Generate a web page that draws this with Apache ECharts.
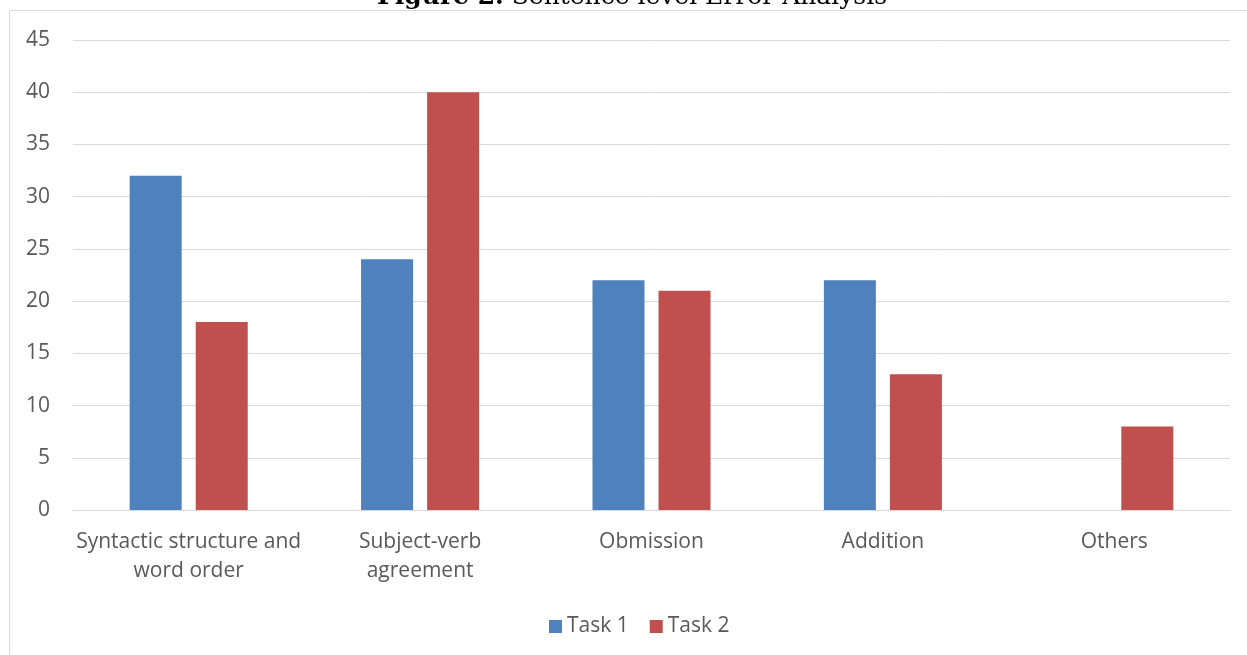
<!DOCTYPE html>
<html>
<head>
<meta charset="utf-8">
<script src="https://cdn.jsdelivr.net/npm/echarts@6/dist/echarts.min.js"></script>
<style>
  html, body { margin: 0; padding: 0; background: #fff; }
  #main { width: 1247px; height: 655px; }
</style>
</head>
<body>
<div id="main"></div>
<script>
const categories = [
  "Syntactic structure and\nword order",
  "Subject-verb\nagreement",
  "Obmission",
  "Addition",
  "Others",
];
const task1 = [32, 24, 22, 22, null];
const task2 = [18, 40, 21, 13, 8];
const yTicks = { min: 0, max: 45, interval: 5 };

const chart = echarts.init(document.getElementById("main"));
const textColor = "#595959";
const font = "Open Sans";

const option = {
  animation: false,
  textStyle: { fontFamily: font },
  graphic: [
    {
      type: "rect",
      shape: { x: 9.5, y: 10.5, width: 1260, height: 660 },
      style: { fill: "none", stroke: "#D9D9D9", lineWidth: 1 },
      silent: true,
    },
    {
      type: "text",
      x: 632,
      y: 10,
      style: {
        text: "{b|Figure 2.} Sentence level Error Analysis",
        fontFamily: "DejaVu Serif",
        fontSize: 25,
        fill: "#000",
        align: "center",
        verticalAlign: "bottom",
        rich: {
          b: { fontFamily: "DejaVu Serif", fontSize: 25, fontWeight: "bold", fill: "#000" },
        },
      },
      silent: true,
    },
  ],
  legend: {
    data: ["Task 1", "Task 2"],
    bottom: 13,
    left: 544,
    itemWidth: 13,
    itemHeight: 13,
    itemGap: 21,
    icon: "rect",
    textStyle: { color: textColor, fontSize: 21, fontFamily: font },
  },
  grid: { left: 73, right: 17, top: 40, bottom: 145 },
  xAxis: {
    type: "category",
    data: categories,
    axisLine: { lineStyle: { color: "#D9D9D9", width: 1 } },
    axisTick: { show: false },
    axisLabel: {
      color: textColor,
      fontSize: 21,
      fontFamily: font,
      lineHeight: 29,
      margin: 18,
      interval: 0,
    },
  },
  yAxis: {
    type: "value",
    min: yTicks.min,
    max: yTicks.max,
    interval: yTicks.interval,
    axisLine: { show: false },
    axisTick: { show: false },
    splitLine: { lineStyle: { color: "#D9D9D9", width: 1 } },
    axisLabel: { color: textColor, fontSize: 21, fontFamily: font, margin: 23 },
  },
  series: [
    {
      name: "Task 1",
      type: "bar",
      data: task1,
      barWidth: 52,
      barGap: "27%",
      itemStyle: { color: "#4F81BD" },
    },
    {
      name: "Task 2",
      type: "bar",
      data: task2,
      barWidth: 52,
      itemStyle: { color: "#C0504D" },
    },
  ],
};

chart.setOption(option);
</script>
</body>
</html>
